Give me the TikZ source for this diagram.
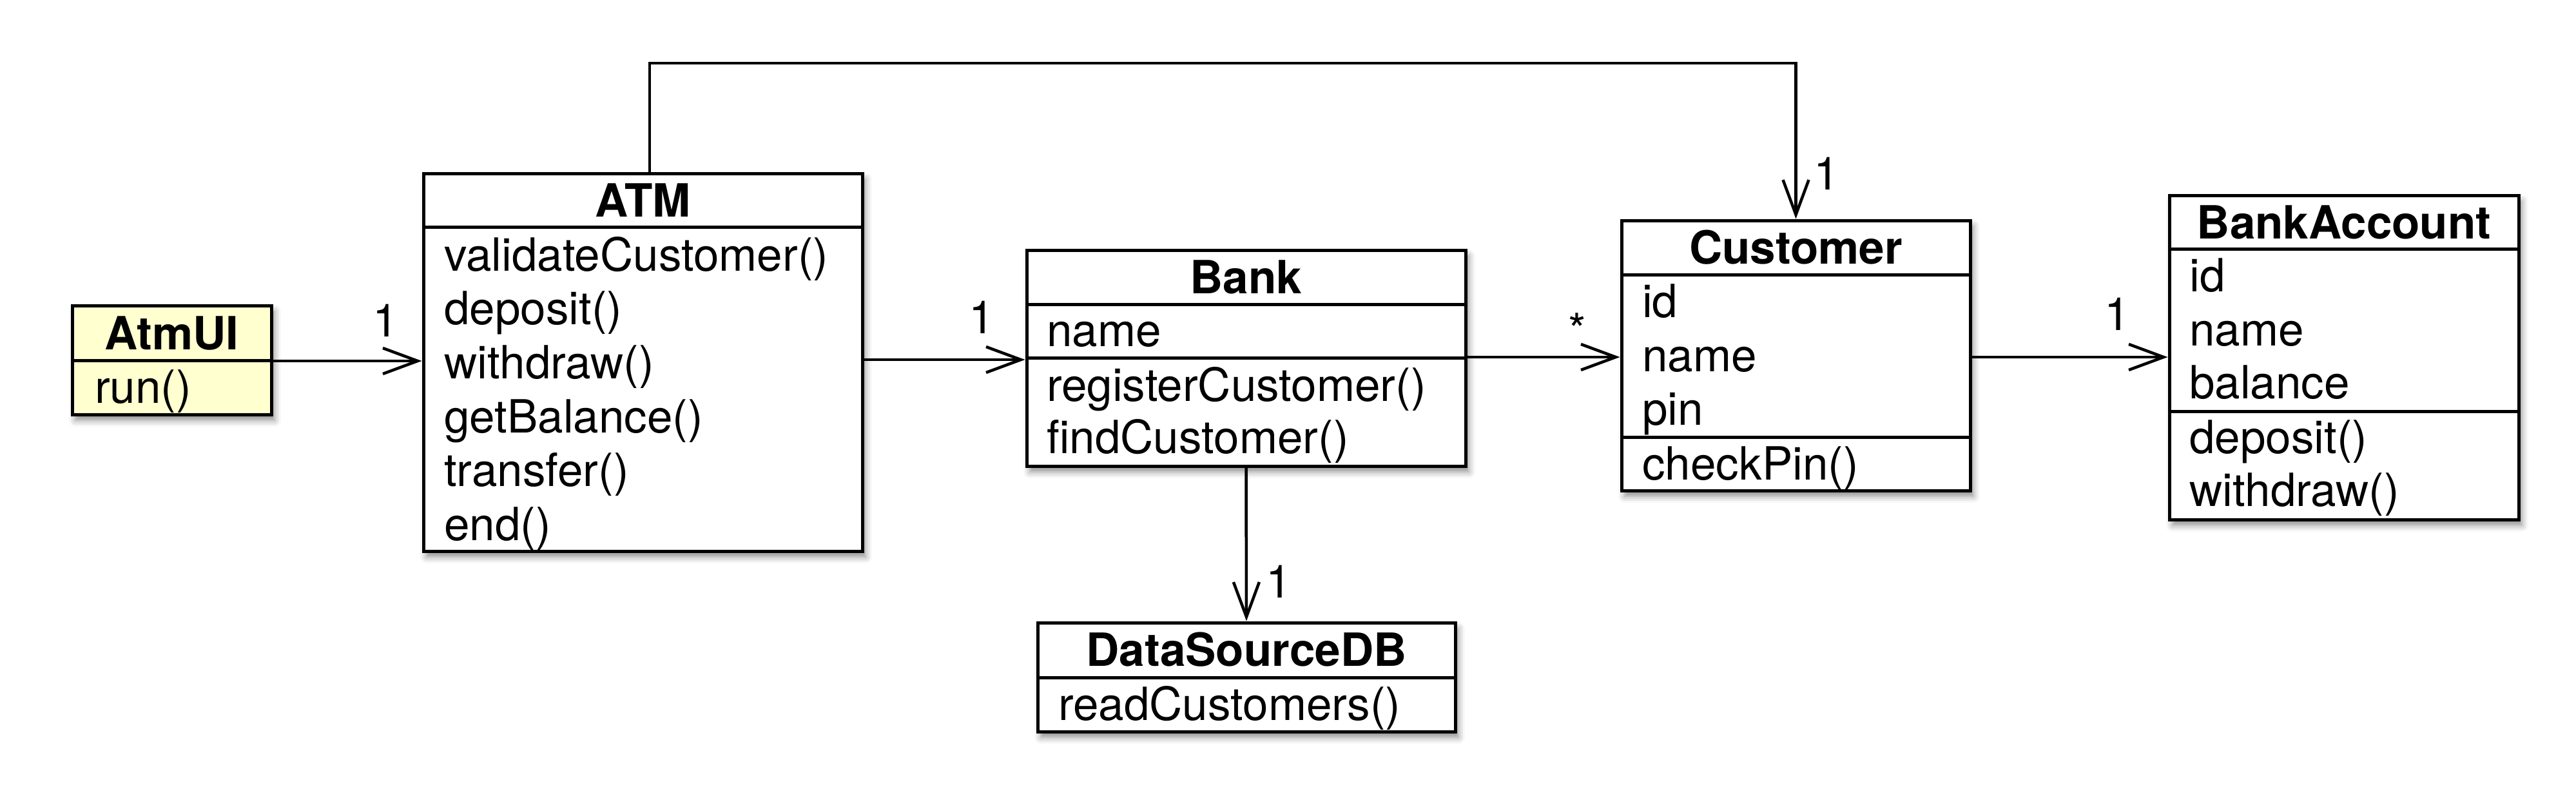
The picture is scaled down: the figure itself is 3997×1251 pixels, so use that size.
\documentclass[tikz,border=0pt]{standalone}
\usepackage{fontspec}
\setmainfont{TeX Gyre Heros}
\usetikzlibrary{arrows.meta,shadows.blur}
\definecolor{uiyellow}{RGB}{255,255,208}
\begin{document}
\begin{tikzpicture}[x=1pt,y=-1pt,
  every node/.style={font=\fontsize{71}{84}\selectfont},
  classbox/.style={draw, line width=5pt, fill=white, rectangle, inner sep=0pt,
    blur shadow={shadow xshift=5pt, shadow yshift=-9pt, shadow blur radius=10pt, shadow opacity=45}},
  ctitle/.style={anchor=base, inner sep=0pt, font=\fontsize{71}{84}\selectfont\bfseries},
  member/.style={anchor=base west, inner sep=0pt},
  divider/.style={line width=5pt},
  assoc/.style={line width=4.5pt, -{Straight Barb[length=54pt, width=40pt, line width=4.5pt]}},
  mult/.style={inner sep=0pt, anchor=center}
]
\useasboundingbox (0,0) rectangle (3997,1251);

% ---------- AtmUI ----------
\node[classbox, fill=uiyellow, minimum width=309pt, minimum height=169pt] (atmui) at (266.5,558.5) {};
\draw[divider] (atmui.west |- 0,559) -- (atmui.east |- 0,559);
\node[ctitle] (atmuiT) at (266.5,542) {AtmUI};
\node[member] (atmuiM1) at (147,625) {run()};

% ---------- ATM ----------
\node[classbox, minimum width=681pt, minimum height=586pt] (atm) at (997.5,562) {};
\draw[divider] (atm.west |- 0,352) -- (atm.east |- 0,352);
\node[ctitle] (atmT) at (997.5,336) {ATM};
\node[member] (atmM1) at (689,420) {validateCustomer()};
\node[member] (atmM2) at (689,503.6) {deposit()};
\node[member] (atmM3) at (689,587) {withdraw()};
\node[member] (atmM4) at (689,671) {getBalance()};
\node[member] (atmM5) at (689,754) {transfer()};
\node[member] (atmM6) at (689,838) {end()};

% ---------- Bank ----------
\node[classbox, minimum width=681pt, minimum height=335pt] (bank) at (1933.5,555.5) {};
\draw[divider] (bank.west |- 0,472) -- (bank.east |- 0,472);
\draw[divider] (bank.west |- 0,555) -- (bank.east |- 0,555);
\node[ctitle] (bankT) at (1933.5,455) {Bank};
\node[member] (bankA1) at (1624,537) {name};
\node[member] (bankM1) at (1624,622) {registerCustomer()};
\node[member] (bankM2) at (1624,703) {findCustomer()};

% ---------- DataSourceDB ----------
\node[classbox, minimum width=648pt, minimum height=169pt] (dsdb) at (1934,1050.5) {};
\draw[divider] (dsdb.west |- 0,1051) -- (dsdb.east |- 0,1051);
\node[ctitle] (dsdbT) at (1934,1033) {DataSourceDB};
\node[member] (dsdbM1) at (1642,1117) {readCustomers()};

% ---------- Customer ----------
\node[classbox, minimum width=541pt, minimum height=419pt] (cust) at (2786.5,551.5) {};
\draw[divider] (cust.west |- 0,426) -- (cust.east |- 0,426);
\draw[divider] (cust.west |- 0,678) -- (cust.east |- 0,678);
\node[ctitle] (custT) at (2786.5,409) {Customer};
\node[member] (custA1) at (2548,492) {id};
\node[member] (custA2) at (2548,576) {name};
\node[member] (custA3) at (2548,659) {pin};
\node[member] (custM1) at (2548,744) {checkPin()};

% ---------- BankAccount ----------
\node[classbox, minimum width=542pt, minimum height=503pt] (acct) at (3637,554.5) {};
\draw[divider] (acct.west |- 0,386) -- (acct.east |- 0,386);
\draw[divider] (acct.west |- 0,638) -- (acct.east |- 0,638);
\node[ctitle] (acctT) at (3637,370) {BankAccount};
\node[member] (acctA1) at (3397,452) {id};
\node[member] (acctA2) at (3397,536) {name};
\node[member] (acctA3) at (3397,618) {balance};
\node[member] (acctM1) at (3397,703) {deposit()};
\node[member] (acctM2) at (3397,785) {withdraw()};

% ---------- connectors ----------
\draw[assoc] (atmui.east |- 0,560) -- (atm.west |- 0,560);
\draw[assoc] (atm.east |- 0,558) -- (bank.west |- 0,558);
\draw[assoc] (bank.east |- 0,554) -- (cust.west |- 0,554);
\draw[assoc] (cust.east |- 0,554) -- (acct.west |- 0,554);
\draw[assoc] (bank.south) -- (dsdb.north);
\coordinate (topturn) at (2786.5,98);
\draw[assoc] ([xshift=10.5pt]atm.north) |- (topturn) -- (cust.north);

% ---------- multiplicities ----------
\node[mult] (m1) at (598,497) {1};
\node[mult] (m2) at (1523,492) {1};
\node[mult] (m3) at (2447,512) {*};
\node[mult] (m4) at (2834,269) {1};
\node[mult] (m5) at (3285,487) {1};
\node[mult] (m6) at (1984,902) {1};
\end{tikzpicture}
\end{document}
